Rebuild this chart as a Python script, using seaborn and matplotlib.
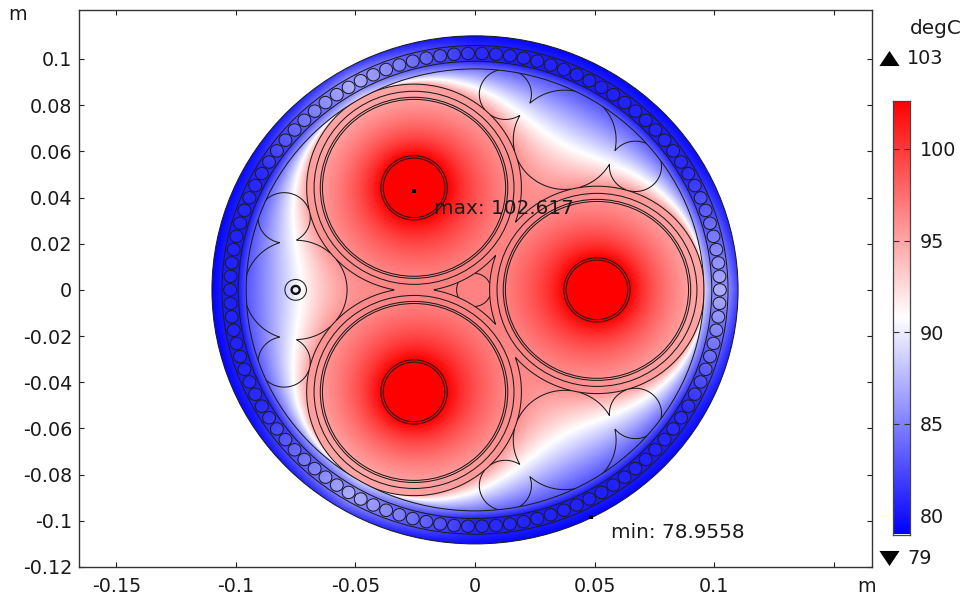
import numpy as np
import matplotlib
matplotlib.use("Agg")
import matplotlib.pyplot as plt
from matplotlib.patches import Circle
import seaborn as sns

# ---- values -----------------------------------------------------------
T_MIN, T_MAX = 78.9558, 102.617
cmap_colors = ["#0000ff", "#ffffff", "#ff0000"]
x_ticks = [-0.15, -0.1, -0.05, 0, 0.05, 0.1, 0.15]
x_tick_labels = ["-0.15", "-0.1", "-0.05", "0", "0.05", "0.1", ""]
y_ticks = [0.1, 0.08, 0.06, 0.04, 0.02, 0, -0.02, -0.04, -0.06, -0.08, -0.1, -0.12]
y_tick_labels = ["0.1", "0.08", "0.06", "0.04", "0.02", "0", "-0.02", "-0.04", "-0.06", "-0.08", "-0.1", "-0.12"]
cbar_ticks = [100, 95, 90, 85, 80]

cable_x = [0.051, -0.0255, -0.0255]
cable_y = [0.0, 0.0442, -0.0442]
cable_ring_r = [0.0418, 0.0392, 0.0383, 0.0139, 0.0129]
cable_outer_r = 0.0449
filler_x = [-0.075, 0.0375, 0.0375, -0.0798, -0.0798, 0.0671, 0.0671, 0.0127, 0.0127]
filler_y = [0.0, 0.065, -0.065, 0.0312, -0.0312, 0.0535, -0.0535, 0.0847, -0.0847]
filler_r = [0.0215, 0.0215, 0.0215, 0.0109, 0.0109, 0.0109, 0.0109, 0.0109, 0.0109]
centre_xy = (-0.0005, 0.0)
centre_r = 0.0072
sheath_r = [0.0957, 0.0990, 0.1058, 0.11]
n_wires = 110
wire_center_r, wire_r = 0.1024, 0.0027

phi_deg = [0, 15, 30, 45, 60]           # angle away from the nearest cable axis
T_inner = [89.0, 86.5, 84.0, 83.0, 82.8]
T_armour = [85.5, 83.0, 80.6, 80.2, 80.2]
T_wire = [87.0, 84.2, 81.0, 80.6, 80.5]
T_outer = [81.8, 80.3, 79.5, 79.2, 79.1]
T_conductor = 102.617
T_ring_hot, T_ring_cool = 96.6, 95.0
max_point = (-0.0255, 0.0429)
min_point = (0.0485, -0.0983)
# ------------------------------------------------------------------------

sns.set_theme(style="white")
plt.rcParams["font.family"] = ["DejaVu Sans"]
cmap = sns.blend_palette(cmap_colors, n_colors=256, as_cmap=True)
TEXT = "#1a1a1a"
LINE = "#1c1c1c"
LW = 0.75
FS = 13.8
FS_NOTE = 14.4

W, H = 965, 599
fig = plt.figure(figsize=(W / 100, H / 100), dpi=100, facecolor="white")


def px_axes(left, top, right, bottom, **kw):
    return fig.add_axes([left / W, 1 - bottom / H, (right - left) / W, (bottom - top) / H], **kw)


ax = px_axes(79, 10, 871.5, 567)
ax.set_xlim(-0.1656, 0.1658)
ax.set_ylim(-0.12, 0.1212)


def phi_of(theta):
    d = np.degrees(theta)
    return np.abs(((d + 60) % 120) - 60)


def ring_temp(xx, yy, cx, cy):
    dx, dy = xx - cx, yy - cy
    d = np.hypot(dx, dy) + 1e-12
    cos_psi = (-cx * dx - cy * dy) / (np.hypot(cx, cy) * d)
    return T_ring_cool + (T_ring_hot - T_ring_cool) * (cos_psi + 1) / 2


def bilinear(F, gx, gy):
    n = F.shape[0]
    u = (gx + 0.1) / 0.2 * (n - 1)
    v = (gy + 0.1) / 0.2 * (n - 1)
    i = np.clip(np.floor(u).astype(int), 0, n - 2)
    j = np.clip(np.floor(v).astype(int), 0, n - 2)
    fu, fv = np.clip(u - i, 0, 1), np.clip(v - j, 0, 1)
    return (F[j, i] * (1 - fu) * (1 - fv) + F[j, i + 1] * fu * (1 - fv)
            + F[j + 1, i] * (1 - fu) * fv + F[j + 1, i + 1] * fu * fv)


def solve(n, guess=None, iters=1500):
    g1 = np.linspace(-0.1, 0.1, n)
    xx, yy = np.meshgrid(g1, g1)
    rr = np.hypot(xx, yy)
    fixed = rr >= sheath_r[0]
    T = np.full(xx.shape, 90.0) if guess is None else bilinear(guess, xx, yy)
    vals = np.interp(phi_of(np.arctan2(yy, xx)), phi_deg, T_inner)
    for cx, cy in zip(cable_x, cable_y):
        m = np.hypot(xx - cx, yy - cy) <= cable_outer_r
        fixed = fixed | m
        vals[m] = ring_temp(xx[m], yy[m], cx, cy)
    T[fixed] = vals[fixed]
    for _ in range(iters):
        T[1:-1, 1:-1] = 0.25 * (T[2:, 1:-1] + T[:-2, 1:-1] + T[1:-1, 2:] + T[1:-1, :-2])
        T[fixed] = vals[fixed]
    return T


T0 = None
for size, its in [(81, 2500), (161, 1500), (321, 1200)]:
    T0 = solve(size, T0, its)

M = 1100
g = np.linspace(-0.1105, 0.1105, M)
X, Y = np.meshgrid(g, g)
R = np.hypot(X, Y)
TH = np.arctan2(Y, X)
PHI = phi_of(TH)
Tf = bilinear(T0, X, Y)

# sheath and armour layers
ti = np.interp(PHI, phi_deg, T_inner)
ta = np.interp(PHI, phi_deg, T_armour)
to = np.interp(PHI, phi_deg, T_outer)
tw = np.interp(PHI, phi_deg, T_wire)
f1 = np.clip((R - sheath_r[0]) / (sheath_r[1] - sheath_r[0]), 0, 1)
f3 = np.clip((R - sheath_r[2]) / (sheath_r[3] - sheath_r[2]), 0, 1)
layer = np.where(R < sheath_r[1], ti + (ta - ti) * f1,
                 np.where(R < sheath_r[2], ta, ta + (to - ta) * f3))
Tf = np.where(R >= sheath_r[0], layer, Tf)

# armour wires carry their own temperature
wire_angles = np.arange(n_wires) * 2 * np.pi / n_wires
wire_xs = wire_center_r * np.cos(wire_angles)
wire_ys = wire_center_r * np.sin(wire_angles)
k = np.round(TH / (2 * np.pi / n_wires))
ang = k * 2 * np.pi / n_wires
in_wire = np.hypot(X - wire_center_r * np.cos(ang), Y - wire_center_r * np.sin(ang)) <= wire_r
Tf = np.where(in_wire, tw, Tf)

# cable cross sections
for cx, cy in zip(cable_x, cable_y):
    d = np.hypot(X - cx, Y - cy)
    tr = ring_temp(X, Y, cx, cy)
    frac = np.clip(np.log(np.maximum(d, 1e-6) / cable_ring_r[3]) / np.log(cable_ring_r[1] / cable_ring_r[3]), 0, 1)
    inside = T_conductor + (tr - T_conductor) * frac
    Tf = np.where(d <= cable_outer_r, inside, Tf)

clip_outer = Circle((0, 0), sheath_r[3], transform=ax.transData)
im = ax.imshow(Tf, origin="lower", extent=[g[0], g[-1], g[0], g[-1]], cmap=cmap,
               vmin=T_MIN, vmax=T_MAX, aspect="auto", interpolation="bilinear", zorder=1)
im.set_clip_path(clip_outer)
ax.set_xlim(-0.1656, 0.1658)
ax.set_ylim(-0.12, 0.1212)

# outlines: cables in full, fillers and the centre circle only outside the cables
d_cables = np.full(X.shape, 1.0)
for cx, cy in zip(cable_x, cable_y):
    d_cables = np.minimum(d_cables, np.hypot(X - cx, Y - cy) - cable_outer_r)
d_fill = np.full(X.shape, 1.0)
for cx, cy, r in zip(filler_x, filler_y, filler_r):
    d_fill = np.minimum(d_fill, np.hypot(X - cx, Y - cy) - r)
d_centre = np.hypot(X - centre_xy[0], Y - centre_xy[1]) - centre_r
clip_in = Circle((0, 0), sheath_r[0], transform=ax.transData)
for field in (d_cables, np.ma.masked_where(d_cables < 0, d_fill),
              np.ma.masked_where(d_cables < 0, d_centre)):
    cs = ax.contour(X, Y, field, levels=[0], colors=[LINE], linewidths=LW, zorder=3)
    cs.set_clip_path(clip_in)


def ring(x, y, r, lw=LW, c=LINE):
    ax.add_patch(Circle((x, y), r, fill=False, ec=c, lw=lw, zorder=4))


for r in sheath_r:
    ring(0, 0, r)
for cx, cy in zip(cable_x, cable_y):
    for r in cable_ring_r:
        ring(cx, cy, r)
for wx, wy in zip(wire_xs, wire_ys):
    ring(wx, wy, wire_r)
ring(filler_x[0], 0, 0.0045)
ring(filler_x[0], 0, 0.0017, lw=1.7, c="#111111")

sns.scatterplot(x=[max_point[0], min_point[0]], y=[max_point[1], min_point[1]], ax=ax,
                color="black", marker="s", s=9, linewidth=0, zorder=6, legend=False)
ax.text(max_point[0] + 0.0085, max_point[1] - 0.0075, "max: 102.617", color=TEXT, fontsize=FS_NOTE,
        va="center", ha="left", zorder=7)
ax.text(min_point[0] + 0.0085, min_point[1] - 0.0069, "min: 78.9558", color=TEXT, fontsize=FS_NOTE,
        va="center", ha="left", zorder=7)

ax.set_xticks(x_ticks)
ax.set_xticklabels(x_tick_labels)
ax.set_yticks(y_ticks)
ax.set_yticklabels(y_tick_labels)
ax.tick_params(direction="in", top=True, right=True, length=3.5, width=0.8, color="#222222",
               labelsize=FS, labelcolor=TEXT, pad=5, bottom=True, left=True)
ax.tick_params(axis="x", pad=7)
for s in ax.spines.values():
    s.set_visible(True)
    s.set_color("#333333")
    s.set_linewidth(1.0)
ax.grid(False)

# colour bar
cax = px_axes(893, 101, 910, 534.5)
grad = np.linspace(T_MIN, T_MAX, 512).reshape(-1, 1)
cax.imshow(grad, origin="lower", extent=[0, 1, T_MIN, T_MAX], cmap=cmap, vmin=T_MIN, vmax=T_MAX,
           aspect="auto", interpolation="bilinear")
cax.set_xticks([])
cax.set_yticks(cbar_ticks)
cax.yaxis.tick_right()
cax.tick_params(axis="y", direction="in", length=4, width=0.8, color="#333333", left=True, right=True,
                labelsize=FS, labelcolor=TEXT, pad=7)
for s in cax.spines.values():
    s.set_visible(True)
    s.set_color("#444444")
    s.set_linewidth(0.9)

# annotations placed in figure pixels
ov = fig.add_axes([0, 0, 1, 1], facecolor="none")
ov.set_xlim(0, W)
ov.set_ylim(H, 0)
ov.axis("off")
up = [(-1, -0.75), (1, -0.75), (0, 0.75)]
down = [(-1, 0.75), (1, 0.75), (0, -0.75)]
ov.scatter([889], [58], marker=up, s=210, color="black", linewidths=0)
ov.scatter([889], [558], marker=down, s=210, color="black", linewidths=0)
for x, y, s, fs in [(907, 59, "103", FS), (907, 559, "79", FS), (910, 28, "degC", FS_NOTE),
                    (8, 15, "m", FS), (857, 587, "m", FS)]:
    ov.text(x, y, s, color=TEXT, fontsize=fs, ha="left", va="center")

fig.savefig("out.png", dpi=100, facecolor="white")
